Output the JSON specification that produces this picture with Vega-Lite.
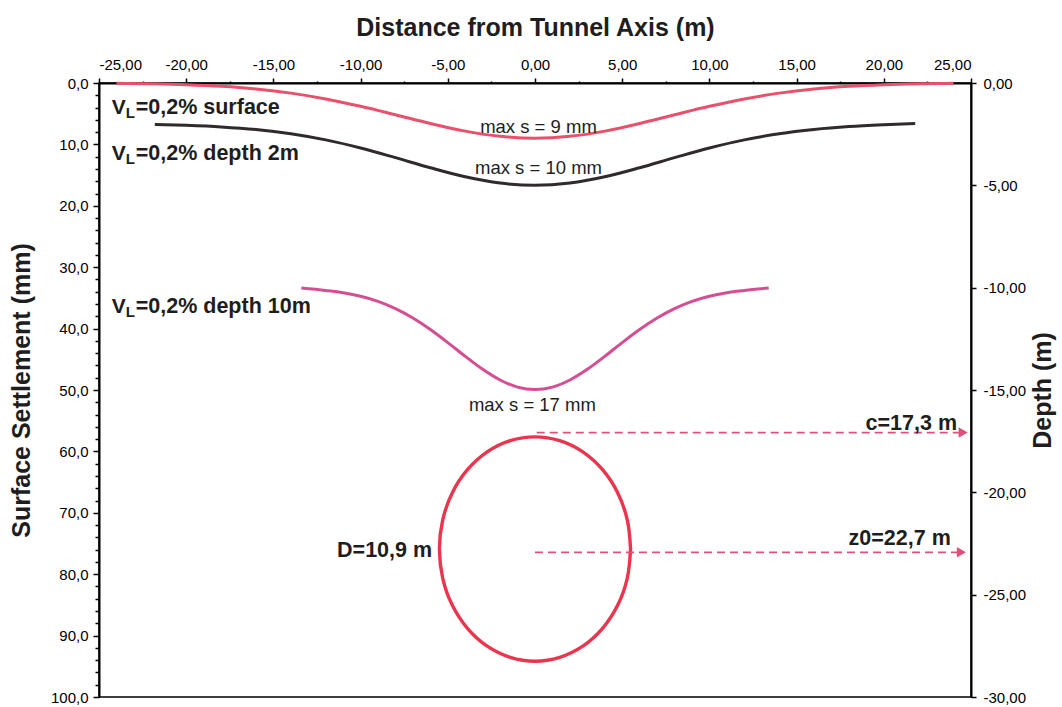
{
  "$schema": "https://vega.github.io/schema/vega-lite/v6.json",
  "width": 872,
  "height": 614,
  "autosize": {"type": "none"},
  "padding": {"left": 99, "top": 83, "right": 91, "bottom": 10},
  "background": "white",
  "config": {
    "font": "Liberation Sans",
    "locale": {"number": {"decimal": ",", "thousands": ".", "grouping": [3], "currency": ["", " €"], "minus": "-"}},
    "view": {"stroke": "black", "strokeWidth": 1.5},
    "axis": {
      "grid": false,
      "domainColor": "black",
      "domainWidth": 2,
      "tickColor": "black",
      "tickWidth": 1.5,
      "labelColor": "black",
      "labelFont": "Liberation Sans",
      "labelFontSize": 15,
      "titleFont": "Liberation Sans",
      "titleFontSize": 25,
      "titleFontWeight": "bold",
      "titleColor": "#1e1e1e"
    }
  },
  "datasets": {
    "curves": [
      {"series": "surface", "x": -24, "s": 0.06},
      {"series": "surface", "x": -22, "s": 0.14},
      {"series": "surface", "x": -20, "s": 0.28},
      {"series": "surface", "x": -18, "s": 0.54},
      {"series": "surface", "x": -16, "s": 0.98},
      {"series": "surface", "x": -14, "s": 1.65},
      {"series": "surface", "x": -12, "s": 2.59},
      {"series": "surface", "x": -10, "s": 3.79},
      {"series": "surface", "x": -8, "s": 5.17},
      {"series": "surface", "x": -6, "s": 6.59},
      {"series": "surface", "x": -4, "s": 7.84},
      {"series": "surface", "x": -2, "s": 8.69},
      {"series": "surface", "x": 0, "s": 9.0},
      {"series": "surface", "x": 2, "s": 8.69},
      {"series": "surface", "x": 4, "s": 7.84},
      {"series": "surface", "x": 6, "s": 6.59},
      {"series": "surface", "x": 8, "s": 5.17},
      {"series": "surface", "x": 10, "s": 3.79},
      {"series": "surface", "x": 12, "s": 2.59},
      {"series": "surface", "x": 14, "s": 1.65},
      {"series": "surface", "x": 16, "s": 0.98},
      {"series": "surface", "x": 18, "s": 0.54},
      {"series": "surface", "x": 20, "s": 0.28},
      {"series": "surface", "x": 22, "s": 0.14},
      {"series": "surface", "x": 24, "s": 0.06},
      {"series": "depth2", "x": -21.8, "s": 6.75},
      {"series": "depth2", "x": -20, "s": 6.9},
      {"series": "depth2", "x": -18, "s": 7.15},
      {"series": "depth2", "x": -16, "s": 7.57},
      {"series": "depth2", "x": -14, "s": 8.26},
      {"series": "depth2", "x": -12, "s": 9.26},
      {"series": "depth2", "x": -10, "s": 10.58},
      {"series": "depth2", "x": -8, "s": 12.16},
      {"series": "depth2", "x": -6, "s": 13.8},
      {"series": "depth2", "x": -4, "s": 15.28},
      {"series": "depth2", "x": -2, "s": 16.3},
      {"series": "depth2", "x": 0, "s": 16.67},
      {"series": "depth2", "x": 2, "s": 16.3},
      {"series": "depth2", "x": 4, "s": 15.28},
      {"series": "depth2", "x": 6, "s": 13.8},
      {"series": "depth2", "x": 8, "s": 12.16},
      {"series": "depth2", "x": 10, "s": 10.58},
      {"series": "depth2", "x": 12, "s": 9.26},
      {"series": "depth2", "x": 14, "s": 8.26},
      {"series": "depth2", "x": 16, "s": 7.57},
      {"series": "depth2", "x": 18, "s": 7.1},
      {"series": "depth2", "x": 20, "s": 6.8},
      {"series": "depth2", "x": 21.8, "s": 6.6},
      {"series": "depth10", "x": -13.4, "s": 33.4},
      {"series": "depth10", "x": -12, "s": 33.8},
      {"series": "depth10", "x": -11, "s": 34.17},
      {"series": "depth10", "x": -10, "s": 34.74},
      {"series": "depth10", "x": -9, "s": 35.57},
      {"series": "depth10", "x": -8, "s": 36.75},
      {"series": "depth10", "x": -7, "s": 38.28},
      {"series": "depth10", "x": -6, "s": 40.15},
      {"series": "depth10", "x": -5, "s": 42.28},
      {"series": "depth10", "x": -4, "s": 44.52},
      {"series": "depth10", "x": -3, "s": 46.63},
      {"series": "depth10", "x": -2, "s": 48.37},
      {"series": "depth10", "x": -1, "s": 49.53},
      {"series": "depth10", "x": 0, "s": 49.93},
      {"series": "depth10", "x": 1, "s": 49.53},
      {"series": "depth10", "x": 2, "s": 48.37},
      {"series": "depth10", "x": 3, "s": 46.63},
      {"series": "depth10", "x": 4, "s": 44.52},
      {"series": "depth10", "x": 5, "s": 42.28},
      {"series": "depth10", "x": 6, "s": 40.15},
      {"series": "depth10", "x": 7, "s": 38.28},
      {"series": "depth10", "x": 8, "s": 36.75},
      {"series": "depth10", "x": 9, "s": 35.57},
      {"series": "depth10", "x": 10, "s": 34.74},
      {"series": "depth10", "x": 11, "s": 34.17},
      {"series": "depth10", "x": 12, "s": 33.8},
      {"series": "depth10", "x": 13.4, "s": 33.4}
    ],
    "vl": [
      {"x": -24.27, "s": 5.05, "rest": "=0,2% surface"},
      {"x": -24.27, "s": 12.54, "rest": "=0,2% depth 2m"},
      {"x": -24.27, "s": 37.4, "rest": "=0,2% depth 10m"}
    ],
    "maxs": [
      {"x": 0.2, "s": 8.2, "t": "max s = 9 mm"},
      {"x": 0.2, "s": 14.8, "t": "max s = 10 mm"},
      {"x": -0.15, "s": 53.4, "t": "max s = 17 mm"}
    ],
    "circle": [
      {"ord": 0, "x": 5.48, "d": -22.77},
      {"ord": 1, "x": 5.293, "d": -21.352},
      {"ord": 2, "x": 4.746, "d": -20.03},
      {"ord": 3, "x": 3.875, "d": -18.895},
      {"ord": 4, "x": 2.74, "d": -18.024},
      {"ord": 5, "x": 1.418, "d": -17.477},
      {"ord": 6, "x": 0, "d": -17.29},
      {"ord": 7, "x": -1.418, "d": -17.477},
      {"ord": 8, "x": -2.74, "d": -18.024},
      {"ord": 9, "x": -3.875, "d": -18.895},
      {"ord": 10, "x": -4.746, "d": -20.03},
      {"ord": 11, "x": -5.293, "d": -21.352},
      {"ord": 12, "x": -5.48, "d": -22.77},
      {"ord": 13, "x": -5.293, "d": -24.188},
      {"ord": 14, "x": -4.746, "d": -25.51},
      {"ord": 15, "x": -3.875, "d": -26.645},
      {"ord": 16, "x": -2.74, "d": -27.516},
      {"ord": 17, "x": -1.418, "d": -28.063},
      {"ord": 18, "x": 0, "d": -28.25},
      {"ord": 19, "x": 1.418, "d": -28.063},
      {"ord": 20, "x": 2.74, "d": -27.516},
      {"ord": 21, "x": 3.875, "d": -26.645},
      {"ord": 22, "x": 4.746, "d": -25.51},
      {"ord": 23, "x": 5.293, "d": -24.188},
      {"ord": 24, "x": 5.48, "d": -22.77}
    ],
    "arrows": [
      {"name": "c", "x": 0.1, "d": -17.08},
      {"name": "c", "x": 24.4, "d": -17.08},
      {"name": "z0", "x": 0, "d": -22.93},
      {"name": "z0", "x": 24.3, "d": -22.93}
    ],
    "heads": [
      {"name": "c", "x": 24.55, "d": -17.08},
      {"name": "z0", "x": 24.45, "d": -22.93}
    ],
    "dtext": [
      {"x": -5.9, "d": -23.16, "t": "D=10,9 m"},
      {"x": 24.2, "d": -16.95, "t": "c=17,3 m"},
      {"x": 23.84, "d": -22.57, "t": "z0=22,7 m"}
    ]
  },
  "encoding": {
    "x": {
      "field": "x",
      "type": "quantitative",
      "scale": {"domain": [-25, 25], "nice": false, "zero": false},
      "axis": {
        "orient": "top",
        "title": "Distance from Tunnel Axis (m)",
        "values": [-25, -22.5, -20, -17.5, -15, -12.5, -10, -7.5, -5, -2.5, 0, 2.5, 5, 7.5, 10, 12.5, 15, 17.5, 20, 22.5, 25],
        "format": ".2f",
        "labelExpr": "datum.value % 5 === 0 ? datum.label : ''",
        "tickSize": {"condition": {"test": "datum.value % 5 === 0", "value": 5}, "value": 2},
        "labelPadding": 6,
        "titlePadding": 17
      }
    }
  },
  "layer": [
    {
      "encoding": {
        "y": {
          "field": "s",
          "type": "quantitative",
          "scale": {"domain": [0, 100], "reverse": true, "nice": false, "zero": false},
          "axis": {
            "orient": "left",
            "title": "Surface Settlement (mm)",
            "values": [0, 2, 4, 6, 8, 10, 12, 14, 16, 18, 20, 22, 24, 26, 28, 30, 32, 34, 36, 38, 40, 42, 44, 46, 48, 50, 52, 54, 56, 58, 60, 62, 64, 66, 68, 70, 72, 74, 76, 78, 80, 82, 84, 86, 88, 90, 92, 94, 96, 98, 100],
            "format": ".1f",
            "labelExpr": "datum.value % 10 === 0 ? datum.label : ''",
            "tickSize": {"condition": {"test": "datum.value % 10 === 0", "value": 6}, "value": 4},
            "labelPadding": 5,
            "titlePadding": 16
          }
        }
      },
      "layer": [
        {
          "data": {"name": "curves"},
          "mark": {"type": "line", "interpolate": "monotone", "strokeWidth": 3},
          "encoding": {
            "color": {
              "field": "series",
              "type": "nominal",
              "scale": {"domain": ["surface", "depth2", "depth10"], "range": ["#e9506c", "#2e2a2e", "#d64e92"]},
              "legend": null
            },
            "detail": {"field": "series"}
          }
        },
        {
          "data": {"name": "vl"},
          "mark": {"type": "text", "text": "V", "align": "left", "baseline": "alphabetic", "fontSize": 21, "fontWeight": "bold", "color": "#1e1e1e"}
        },
        {
          "data": {"name": "vl"},
          "mark": {"type": "text", "text": "L", "align": "left", "baseline": "alphabetic", "fontSize": 15, "fontWeight": "bold", "dx": 14, "dy": 4, "color": "#1e1e1e"}
        },
        {
          "data": {"name": "vl"},
          "mark": {"type": "text", "align": "left", "baseline": "alphabetic", "fontSize": 21.5, "fontWeight": "bold", "dx": 24, "color": "#1e1e1e"},
          "encoding": {"text": {"field": "rest"}}
        },
        {
          "data": {"name": "maxs"},
          "mark": {"type": "text", "align": "center", "baseline": "alphabetic", "fontSize": 18.5, "color": "#1e1e1e"},
          "encoding": {"text": {"field": "t"}}
        }
      ]
    },
    {
      "encoding": {
        "y": {
          "field": "d",
          "type": "quantitative",
          "scale": {"domain": [-30, 0], "nice": false, "zero": false},
          "axis": {
            "orient": "right",
            "title": "Depth (m)",
            "titleAngle": -90,
            "values": [0, -5, -10, -15, -20, -25, -30],
            "format": ".2f",
            "tickSize": 5,
            "labelPadding": 7,
            "titlePadding": 30
          }
        }
      },
      "layer": [
        {
          "data": {"name": "circle"},
          "mark": {"type": "line", "interpolate": "catmull-rom", "strokeWidth": 3.4, "color": "#e8364f"},
          "encoding": {"order": {"field": "ord", "type": "quantitative"}}
        },
        {
          "data": {"name": "arrows"},
          "mark": {"type": "line", "strokeWidth": 1.8, "strokeDash": [8, 5], "color": "#e0507a"},
          "encoding": {"detail": {"field": "name"}}
        },
        {
          "data": {"name": "heads"},
          "mark": {"type": "point", "shape": "triangle-right", "filled": true, "size": 110, "opacity": 1, "color": "#e0507a"}
        },
        {
          "data": {"name": "dtext"},
          "mark": {"type": "text", "align": "right", "baseline": "alphabetic", "fontSize": 21.5, "fontWeight": "bold", "color": "#1e1e1e"},
          "encoding": {"text": {"field": "t"}}
        }
      ]
    }
  ],
  "resolve": {"scale": {"y": "independent"}, "axis": {"y": "independent"}}
}
